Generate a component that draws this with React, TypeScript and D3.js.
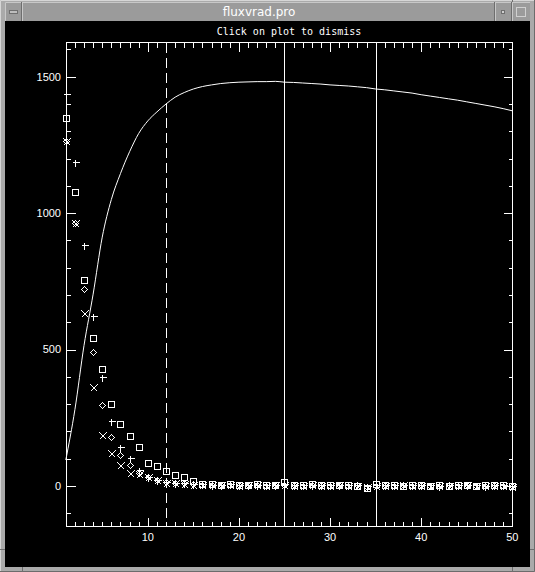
import React from 'react'
import * as d3 from 'd3'

// radius (x) for every sample
const radius = [
  1, 2, 3, 4, 5, 6, 7, 8, 9, 10,
  11, 12, 13, 14, 15, 16, 17, 18, 19, 20,
  21, 22, 23, 24, 25, 26, 27, 28, 29, 30,
  31, 32, 33, 34, 35, 36, 37, 38, 39, 40,
  41, 42, 43, 44, 45, 46, 47, 48, 49, 50,
]

// cumulative flux curve
const fluxCurve = [
  95, 280, 515, 703, 912, 1050, 1145, 1225, 1292, 1338,
  1371, 1400, 1425, 1442, 1455, 1464, 1470, 1475, 1478, 1480,
  1481, 1482, 1482, 1483, 1480, 1479, 1477, 1475, 1473, 1470,
  1468, 1466, 1463, 1460, 1455, 1452, 1448, 1444, 1440, 1434,
  1429, 1424, 1419, 1414, 1408, 1402, 1396, 1390, 1383, 1375,
]

const plusVals = [
  1438, 1186, 883, 622, 398, 238, 144, 101, 60, 34,
  22, 14, 10, 9, 7, 6, 5, 4, 6, 3,
  4, 5, 3, 2, 6, 4, 3, 5, 2, 4,
  3, 5, 2, 1, 4, 3, 2, 5, 3, 2,
  4, 1, 3, 2, 4, 3, 1, 2, 3, 1,
]

const squareVals = [
  1347, 1076, 754, 541, 427, 299, 226, 183, 142, 83,
  73, 56, 40, 34, 18, 8, 6, 5, 7, 4,
  5, 6, 3, 4, 15, 5, 2, 6, 3, 4,
  2, 5, 1, -6, 6, 3, 2, 0, 4, 2,
  0, 3, -2, 5, 3, 1, 4, 3, 2, 1,
]

const diamondVals = [
  1264, 964, 720, 492, 295, 178, 114, 77, 46, 34,
  22, 13, 10, 9, 7, 5, 4, 3, 5, 2,
  3, 4, 1, 3, 4, 2, 1, 3, 2, 0,
  3, 1, 2, -3, 1, 2, 0, 3, 1, 2,
  0, -1, 2, 1, 3, 0, 1, 2, 0, -2,
]

const crossVals = [
  1264, 964, 633, 362, 187, 122, 77, 48, 44, 32,
  20, 12, 9, 8, 5, 4, 3, 2, 4, 1,
  2, 3, 0, 2, 3, 1, 0, 2, 1, -1,
  2, 0, 1, -5, 0, 1, -1, 2, 0, 1,
  -1, -2, 1, 0, 2, -1, 0, 1, -1, -3,
]

const dashedAt = [12]
const solidAt = [25, 35]

const W = 535
const H = 572
const WHITE = '#ffffff'

const symbols: Record<string, (px: number, py: number) => string> = {
  plus: (px, py) => `M${px - 3},${py}H${px + 4}M${px},${py - 3}V${py + 4}`,
  square: (px, py) => `M${px - 3},${py - 3}h6v6h-6z`,
  diamond: (px, py) => `M${px},${py - 3}L${px + 3},${py}L${px},${py + 3}L${px - 3},${py}Z`,
  cross: (px, py) => `M${px - 3},${py - 3}L${px + 4},${py + 4}M${px + 4},${py - 3}L${px - 3},${py + 4}`,
}

const series = [
  { key: 'plus', values: plusVals },
  { key: 'square', values: squareVals },
  { key: 'diamond', values: diamondVals },
  { key: 'cross', values: crossVals },
]

export default function App() {
  const left = 65.8
  const right = 512.3
  const top = 41.8
  const bottom = 526

  const x = d3.scaleLinear().domain([1, 50]).range([left, right])
  const y = d3.scaleLinear().domain([-147, 1628]).range([bottom, top])

  const snap = (v: number) => Math.round(v) + 0.5

  const line = d3.line<number>()
    .x((_, i) => x(radius[i]))
    .y(d => y(d))
    .curve(d3.curveMonotoneX)

  const xMinor = x.ticks(49)
  const xMajor = x.ticks(5)
  const yMinor = y.ticks(17)
  const yMajor = y.ticks(4)

  const L = snap(left)
  const R = snap(right)
  const T = snap(top)
  const B = snap(bottom)

  return (
    <svg width={W} height={H}
      style={{ position: 'absolute', left: 0, top: 0, display: 'block' }}>
      {/* window frame */}
      <rect x={0} y={0} width={W} height={H} fill="#aaaaaa" />
      <path d={`M0.5,${H}V0.5H${W}`} stroke="#d6d6d6" fill="none" />
      <path d={`M${W - 0.5},0V${H - 0.5}H0`} stroke="#6c6c6c" fill="none" />
      {/* title bar */}
      <rect x={5} y={2} width={525} height={19} fill="#9b9b9b" />
      <path d="M5.5,21V2.5H530" stroke="#c8c8c8" fill="none" />
      <path d="M22.5,2V21M495.5,2V21M512.5,2V21" stroke="#c8c8c8" />
      <path d="M21.5,2V21M494.5,2V21M511.5,2V21" stroke="#6e6e6e" />
      <rect x={9.5} y={10.5} width={8} height={3} fill="#bdbdbd" stroke="#6e6e6e" />
      <rect x={501.5} y={10.5} width={3} height={3} fill="#d0d0d0" stroke="#6e6e6e" />
      <rect x={516.5} y={7.5} width={9} height={9} fill="none" stroke="#d0d0d0" />
      <text x={259} y={16} fill={WHITE} textAnchor="middle"
        fontFamily="'DejaVu Sans', sans-serif" fontSize={12}>fluxvrad.pro</text>
      {/* resize notches */}
      <path d="M0,549.5H5M530,549.5H535M22.5,567V572M512.5,567V572M512.5,0V2" stroke="#6e6e6e" />

      {/* drawing area */}
      <rect x={5} y={21} width={525} height={546} fill="#000000" />
      <text x={289} y={35} fill={WHITE} textAnchor="middle"
        fontFamily="'DejaVu Sans Mono', monospace" fontSize={10}>Click on plot to dismiss</text>

      <g stroke={WHITE} fill="none" shapeRendering="crispEdges" strokeWidth={1}>
        <rect x={L} y={T} width={R - L} height={B - T} />
        {xMinor.map(t => {
          const px = snap(x(t))
          const len = xMajor.includes(t) ? 9 : 5
          return (
            <g key={'xt' + t}>
              <path d={`M${px},${B}V${B - len}`} />
              <path d={`M${px},${T}V${T + len}`} />
            </g>
          )
        })}
        {yMinor.map(t => {
          const py = snap(y(t))
          const len = yMajor.includes(t) ? 9 : 4
          return (
            <g key={'yt' + t}>
              <path d={`M${L},${py}H${L + len}`} />
              <path d={`M${R},${py}H${R - len}`} />
            </g>
          )
        })}
        {dashedAt.map(v => (
          <path key={'d' + v} d={`M${snap(x(v))},${T}V${B}`} strokeDasharray="10,5" />
        ))}
        {solidAt.map(v => (
          <path key={'s' + v} d={`M${snap(x(v))},${T}V${B}`} />
        ))}
      </g>

      <path d={line(fluxCurve) || ''} fill="none" stroke={WHITE} strokeWidth={1} />

      <g stroke={WHITE} fill="none" strokeWidth={1} shapeRendering="crispEdges">
        {series.map(s => s.values.map((v, i) => (
          <path key={s.key + i}
            d={symbols[s.key](snap(x(radius[i])), snap(y(v)))} />
        )))}
      </g>

      <g fill={WHITE} fontFamily="'Liberation Sans', Arial, sans-serif" fontSize={11}>
        {yMajor.map(t => (
          <text key={'yl' + t} x={61} y={y(t)} dy="0.36em" textAnchor="end">{t}</text>
        ))}
        {xMajor.map(t => (
          <text key={'xl' + t} x={x(t)} y={541} textAnchor="middle">{t}</text>
        ))}
      </g>
    </svg>
  )
}
